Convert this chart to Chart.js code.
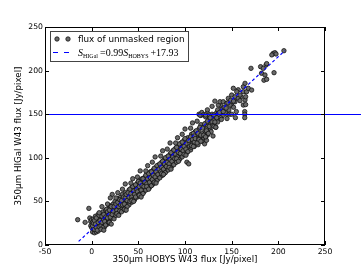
<!DOCTYPE html>
<html>
<head>
<meta charset="utf-8">
<script src="https://cdn.jsdelivr.net/npm/chart.js@4/dist/chart.umd.min.js"></script>
<style>
  html, body { margin: 0; padding: 0; background: #fff; }
  canvas { display: block; }
</style>
</head>
<body>
<canvas id="fluxChart" width="361" height="273"></canvas>
<script>
// pixel fluxes (x = HOBYS, y = HiGal)
const hobysFlux = [
  -15, -7, -3, -2, -1, -1, 0, 22,
  0, 1, 1, 2, 2, 3, 3, 4, 4, 5, 5, 6, 6, 7, 7, 8, 8, 9, 10, 10, 11, 12, 12, 13, 14, 14, 15, 16, 16, 17, 18, 18, 19, 20, 20,
  21, 22, 23, 24, 25, 25, 26, 27, 28, 28, 29, 30, 30, 31, 32, 33, 33, 34, 35, 36, 36, 37, 38, 39, 40, 40,
  41, 42, 43, 43, 44, 45, 46, 46, 47, 48, 49, 49, 50, 50, 51, 52, 53, 53, 54, 55, 56, 56, 57, 58, 59, 59, 60,
  61, 62, 62, 63, 64, 65, 65, 66, 67, 68, 68, 69, 70, 71, 71, 72, 73, 74, 74, 75, 76, 77, 77, 78, 79, 80, 80,
  81, 82, 83, 83, 84, 85, 86, 86, 87, 88, 89, 89, 90, 91, 92, 92, 93, 94, 95, 95, 96, 97, 98, 98, 99, 100,
  102, 104,
  101, 102, 103, 104, 105, 106, 107, 108, 109, 110, 111, 112, 113, 114, 115, 116, 117, 118, 119, 120,
  121, 122, 123, 124, 125, 126, 127, 128, 129, 130, 131, 132, 133, 134, 135, 136, 137, 138, 139, 140,
  115, 117, 118, 120, 122, 124, 126, 123,
  142, 145, 147, 150, 140, 143, 138, 132, 136, 148, 152, 155, 160, 157,
  135.7, 137.5, 141, 144.6, 146.4, 148.2, 150, 151.8, 153.6, 153.6, 155.4, 157.1, 158.9, 158.9,
  162.5, 162.5, 162.5, 164.3, 164.3, 165, 165, 166, 167.8, 171.4, 170.7, 164, 164, 164, 154,
  181, 182, 183.9, 184.6, 185.7, 186.8, 187.5, 187.5, 194.6, 196.4, 197.5, 193, 195.4, 206,
  1, 2, 3, 3, 4, 5, 5, 6, 7, 8, 8, 9, 10, 11, 11, 12, 13, 13, 14, 15, 15, 16, 17, 17, 18, 19, 19, 20, 21, 22,
  23, 24, 24, 26, 26, 27, 28, 29, 30, 30,
  31, 32, 32, 33, 34, 35, 35, 36, 37, 38, 38, 39, 40, 41, 41, 42, 43, 44, 44, 45, 46, 47, 47, 48, 49, 50,
  51, 51, 52, 53, 54, 55, 55, 56, 57, 58, 58, 59, 60, 60, 61, 62, 63, 64, 64, 65, 66, 67, 67, 68, 69, 70, 70,
  71, 72, 73, 73, 74, 75, 76, 76, 77, 78, 79, 79, 80, 81, 82, 82, 83, 84, 85, 85, 86, 87, 88, 88, 89, 90,
  91, 91, 92, 93, 94, 94, 95, 96, 97, 97, 98, 99, 100, 100, 101, 103, 104, 105, 106, 107, 108, 109, 110, 110,
  111, 112, 113, 114, 115, 116, 117, 118, 119, 120, 121, 122, 123, 124, 125, 126, 127, 128, 129, 130,
  131, 132, 133, 134, 135, 137, 139, 141, 144, 146, 149, 152, 145, 150,
  8, 11, 17, 20, 26, 28, 33, 36, 42, 44, 49, 52, 58, 60, 65, 68, 74, 76, 81, 84, 90, 92, 97, 100, 106, 108, 113, 116, 122, 124, 129, 132,
  10, 13, 19, 21, 27, 29, 35, 37, 43, 45, 51, 53, 59, 61, 67, 69, 75, 77, 83, 85, 91, 93, 99, 101, 107, 109, 115, 117, 123, 125, 131, 133
];
const higalFlux = [
  29, 26, 42, 31, 27, 22, 29, 58,
  20, 15, 26, 30, 18, 14, 22, 33, 17, 25, 15, 29, 20, 16, 35, 24, 30, 19, 27, 36, 22, 31, 38, 26, 34, 21, 40, 29, 36, 24, 33, 42, 28, 38, 45,
  31, 40, 47, 35, 43, 50, 38, 46, 41, 53, 36, 49, 44, 55, 42, 50, 58, 45, 53, 40, 60, 48, 56, 51, 63, 46,
  58, 53, 66, 49, 61, 56, 68, 52, 63, 58, 71, 55, 66, 60, 74, 62, 69, 57, 76, 65, 72, 61, 78, 68, 74, 64, 80,
  70, 76, 66, 84, 73, 79, 69, 86, 77, 82, 72, 89, 80, 86, 76, 92, 83, 89, 79, 95, 86, 92, 82, 98, 88, 95, 85,
  101, 91, 98, 88, 104, 94, 101, 91, 108, 97, 104, 94, 111, 100, 107, 97, 114, 103, 110, 100, 117, 106, 113, 103, 120, 109,
  95, 93,
  116, 106, 123, 112, 119, 109, 127, 116, 122, 113, 130, 119, 126, 115, 133, 123, 138, 128, 121, 135,
  116, 130, 140, 126, 134, 145, 132, 139, 150, 125, 143, 136, 148, 152, 141, 153, 146, 160, 150, 156,
  150, 148.5, 152, 149.5, 147, 151.5, 149, 120,
  158, 150, 155, 160, 148, 152, 146, 148, 150, 150, 158, 153, 170, 178,
  160.5, 164.3, 164.3, 162.5, 168.2, 160.5, 172, 179.7, 170, 164.3, 175.8, 168.2, 172, 165.5,
  160.5, 181.5, 175.8, 185.4, 166.3, 170, 161, 175.8, 179.7, 177.7, 202.6, 153, 150, 146, 146,
  204.5, 197, 202.6, 189, 195, 206.4, 208, 190, 219.8, 220.5, 219, 218, 197.6, 222.8,
  22, 25, 28, 18, 24, 31, 20, 17, 26, 21, 34, 28, 22, 33, 26, 20, 35, 29, 27, 32, 23, 41, 31, 38, 26, 35, 40, 32, 44, 35,
  39, 44, 30, 47, 34, 40, 49, 44, 52, 39,
  46, 51, 38, 46, 55, 47, 41, 54, 58, 44, 51, 60, 55, 50, 64, 59, 55, 52, 67, 62, 58, 69, 55, 64, 61, 73,
  58, 67, 71, 63, 68, 59, 76, 67, 72, 63, 80, 70, 76, 66, 82, 72, 77, 68, 84, 75, 80, 71, 88, 78, 84, 74, 91,
  81, 87, 77, 93, 84, 89, 80, 96, 87, 93, 83, 100, 90, 95, 86, 102, 93, 98, 89, 106, 96, 101, 92, 109, 99, 104,
  95, 112, 101, 106, 98, 116, 105, 110, 101, 118, 108, 113, 104, 122, 110, 107, 120, 113, 124, 112, 121, 128, 118, 125,
  122, 131, 117, 128, 122, 135, 126, 119, 134, 126, 139, 124, 133, 142, 129, 136, 146, 130, 141, 137,
  149, 141, 135, 146, 155, 152, 144, 153, 157, 163, 166, 165, 145, 150,
  37, 44, 47, 54, 54, 60, 64, 70, 71, 76, 78, 85, 85, 91, 95, 101, 102, 108, 110, 117, 117, 123, 127, 133, 134, 140, 142, 149, 149, 155, 159, 165,
  18, 17, 26, 24, 36, 34, 41, 40, 51, 50, 57, 55, 67, 64, 72, 71, 82, 81, 89, 87, 99, 96, 104, 103, 114, 113, 121, 119, 131, 128, 136, 135
];

// end points of the fitted relation and the horizontal marker
const fitX = [-14, 207];
const fitY = [4.1, 222.9];
const thresholdFlux = 150;

const xTicks = [-50, 0, 50, 100, 150, 200, 250];
const yTicks = [0, 50, 100, 150, 200, 250];
const pointLabel = 'flux of unmasked region';

const blue = '#0000ff';
const sans = 'DejaVu Sans';
const serif = 'Liberation Serif';

const decorPlugin = {
  id: 'decor',
  afterDatasetsDraw(chart) {
    const ctx = chart.ctx;
    const area = chart.chartArea;
    const xs = chart.scales.x;
    const ys = chart.scales.y;
    ctx.save();

    // horizontal line at 150, runs to the edge of the figure
    const yLine = Math.round(ys.getPixelForValue(thresholdFlux)) + 0.5;
    ctx.strokeStyle = blue;
    ctx.lineWidth = 1.1;
    ctx.beginPath();
    ctx.moveTo(area.left, yLine);
    ctx.lineTo(chart.width, yLine);
    ctx.stroke();

    // frame + inward ticks like matplotlib
    ctx.strokeStyle = '#000';
    ctx.lineWidth = 1;
    ctx.strokeRect(area.left + 0.5, area.top + 0.5, area.right - area.left - 1, area.bottom - area.top - 1);
    ctx.beginPath();
    xTicks.forEach(v => {
      const px = Math.round(xs.getPixelForValue(v)) + 0.5;
      ctx.moveTo(px, area.bottom); ctx.lineTo(px, area.bottom - 4);
      ctx.moveTo(px, area.top); ctx.lineTo(px, area.top + 4);
    });
    yTicks.forEach(v => {
      const py = Math.round(ys.getPixelForValue(v)) + 0.5;
      ctx.moveTo(area.left, py); ctx.lineTo(area.left + 4, py);
      ctx.moveTo(area.right, py); ctx.lineTo(area.right - 4, py);
    });
    ctx.stroke();

    // legend box
    const bx = 50.5, by = 31.5, bw = 138, bh = 30;
    ctx.fillStyle = '#fff';
    ctx.fillRect(bx, by, bw, bh);
    ctx.strokeStyle = '#444';
    ctx.lineWidth = 1;
    ctx.strokeRect(bx, by, bw, bh);

    // row 1: two markers + label
    [57, 68].forEach(mx => {
      ctx.beginPath();
      ctx.arc(mx, 39, 2.2, 0, Math.PI * 2);
      ctx.fillStyle = '#6a6a6a';
      ctx.fill();
      ctx.strokeStyle = '#111';
      ctx.lineWidth = 0.8;
      ctx.stroke();
    });
    ctx.fillStyle = '#000';
    ctx.textBaseline = 'alphabetic';
    ctx.textAlign = 'left';
    ctx.font = '8.8px "' + sans + '"';
    ctx.fillText(pointLabel, 78, 42.3);

    // row 2: dashed fit line + formula
    ctx.strokeStyle = blue;
    ctx.lineWidth = 1.2;
    ctx.setLineDash([5, 6]);
    ctx.beginPath();
    ctx.moveTo(53, 52.5);
    ctx.lineTo(69, 52.5);
    ctx.stroke();
    ctx.setLineDash([]);

    let tx = 78;
    const base = 56;
    const parts = [
      { t: 'S', f: 'italic 10px "' + serif + '"', dy: 0, gap: 0 },
      { t: 'HIGal', f: '6px "' + serif + '"', dy: 2, gap: 2 },
      { t: '=0.99', f: '10px "' + serif + '"', dy: 0, gap: 0 },
      { t: 'S', f: 'italic 10px "' + serif + '"', dy: 0, gap: 0 },
      { t: 'HOBYS', f: '6px "' + serif + '"', dy: 2, gap: 2 },
      { t: '+17.93', f: '10px "' + serif + '"', dy: 0, gap: 0 }
    ];
    parts.forEach(p => {
      ctx.font = p.f;
      ctx.fillText(p.t, tx, base + p.dy);
      tx += ctx.measureText(p.t).width + p.gap;
    });

    ctx.restore();
  }
};

const tickFont = { family: sans, size: 7.7 };
const titleFont = { family: sans, size: 8.7 };

new Chart(document.getElementById('fluxChart'), {
  type: 'scatter',
  data: {
    datasets: [
      {
        type: 'line',
        label: 'fit',
        data: fitX.map((x, i) => ({ x: x, y: fitY[i] })),
        borderColor: blue,
        borderWidth: 1.2,
        borderDash: [3, 2.5],
        pointRadius: 0,
        fill: false,
        order: 0
      },
      {
        label: pointLabel,
        data: hobysFlux.map((x, i) => ({ x: x, y: higalFlux[i] })),
        backgroundColor: '#6a6a6a',
        borderColor: '#111111',
        borderWidth: 0.8,
        pointRadius: 2.2,
        order: 1
      }
    ]
  },
  options: {
    responsive: false,
    animation: false,
    devicePixelRatio: 1,
    layout: { padding: { top: 27, right: 36, left: 0, bottom: 0 } },
    plugins: {
      legend: { display: false },
      tooltip: { enabled: false }
    },
    scales: {
      x: {
        type: 'linear',
        min: -50,
        max: 250,
        afterBuildTicks: s => { s.ticks = xTicks.map(v => ({ value: v })); },
        afterFit: s => { s.height = 28; },
        grid: { display: false, drawTicks: false },
        border: { display: false },
        ticks: { color: '#000', font: tickFont, padding: 2, maxRotation: 0, autoSkip: false },
        title: {
          display: true,
          text: '350μm HOBYS W43 flux [Jy/pixel]',
          color: '#000',
          font: titleFont,
          padding: { top: 0, bottom: 8 }
        }
      },
      y: {
        type: 'linear',
        min: 0,
        max: 250,
        afterBuildTicks: s => { s.ticks = yTicks.map(v => ({ value: v })); },
        afterFit: s => { s.width = 45; },
        grid: { display: false, drawTicks: false },
        border: { display: false },
        ticks: { color: '#000', font: tickFont, padding: 2, autoSkip: false },
        title: {
          display: true,
          text: '350μm HIGal W43 flux [Jy/pixel]',
          color: '#000',
          font: titleFont,
          padding: { top: 14, bottom: 0 }
        }
      }
    }
  },
  plugins: [decorPlugin]
});
</script>
</body>
</html>
